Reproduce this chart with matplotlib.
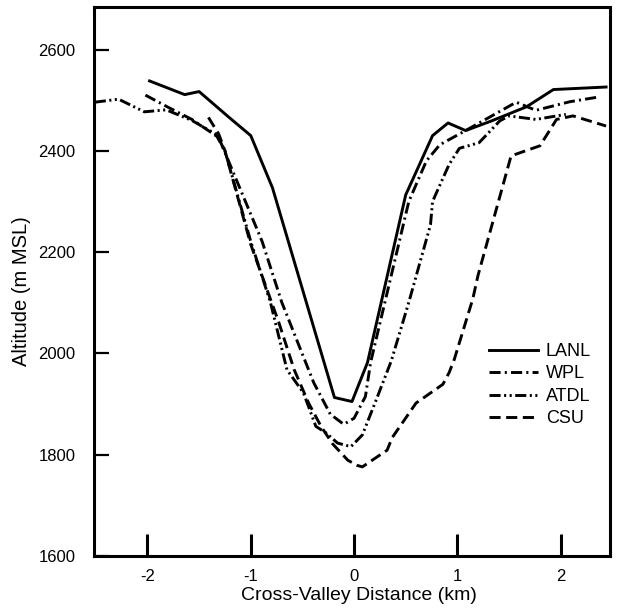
import numpy as np
import matplotlib
matplotlib.use("Agg")
import matplotlib.pyplot as plt

plt.rcParams['font.family'] = ['Liberation Sans', 'DejaVu Sans']
plt.rcParams['axes.unicode_minus'] = False
plt.rcParams['lines.scale_dashes'] = False

# cross-valley profiles (km, m MSL)
lanl_x = [-1.98, -1.64, -1.50, -1.21, -1.00, -0.79, -0.19, -0.02, 0.13, 0.50, 0.76, 0.91, 1.08, 1.33, 1.67, 1.93, 2.44]
lanl_y = [2538, 2511, 2517, 2466, 2430, 2327, 1913, 1905, 1982, 2313, 2430, 2455, 2440, 2459, 2487, 2521, 2526]

wpl_x = [-2.02, -1.80, -1.57, -1.31, -0.89, -0.70, -0.39, -0.23, -0.10, 0.00, 0.11, 0.16, 0.53, 0.70, 0.83, 1.08, 1.57, 1.76, 2.09, 2.36]
wpl_y = [2510, 2486, 2462, 2426, 2221, 2101, 1942, 1880, 1860, 1872, 1915, 1982, 2300, 2380, 2412, 2440, 2496, 2480, 2497, 2506]

atdl_x = [-2.51, -2.28, -2.03, -1.82, -1.57, -1.34, -1.25, -1.00, -0.81, -0.65, -0.49, -0.37, -0.27, -0.16, -0.03, 0.08, 0.21, 0.36, 0.53, 0.74, 0.76, 0.92, 1.02, 1.21, 1.41, 1.50, 1.76, 2.05]
atdl_y = [2496, 2502, 2477, 2481, 2460, 2433, 2400, 2221, 2101, 1968, 1922, 1856, 1843, 1823, 1816, 1839, 1906, 1985, 2101, 2254, 2300, 2373, 2405, 2416, 2459, 2469, 2462, 2472]

csu_x = [-1.41, -1.31, -1.25, -1.00, -0.73, -0.58, -0.44, -0.32, -0.21, -0.06, 0.03, 0.08, 0.32, 0.37, 0.60, 0.86, 0.92, 0.97, 1.15, 1.20, 1.52, 1.80, 1.96, 2.12, 2.44]
csu_y = [2466, 2433, 2400, 2215, 2062, 1968, 1902, 1856, 1822, 1789, 1779, 1776, 1809, 1834, 1902, 1939, 1962, 1988, 2108, 2154, 2390, 2410, 2462, 2469, 2449]

x_ticks = [-2, -1, 0, 1, 2]
y_ticks = [1600, 1800, 2000, 2200, 2400, 2600]

fig = plt.figure(figsize=(6.17, 6.08), dpi=100)
ax = fig.add_axes([0.152, 0.0855, 0.837, 0.903])

lw = 2.1
ax.plot(lanl_x, lanl_y, color='black', lw=lw, label='LANL')
ax.plot(wpl_x, wpl_y, color='black', lw=lw, dashes=(8, 3, 1.5, 3), label='WPL')
ax.plot(atdl_x, atdl_y, color='black', lw=lw, dashes=(8, 2.5, 1.5, 2.5, 1.5, 2.5), label='ATDL')
ax.plot(csu_x, csu_y, color='black', lw=lw, dashes=(8, 4), label='CSU')

ax.set_xlim(-2.52, 2.48)
ax.set_ylim(1600, 2684)
ax.set_xticks(x_ticks)
ax.set_yticks(y_ticks)
ax.set_xticklabels([str(t) for t in x_ticks])
ax.tick_params(axis='x', direction='in', length=16, width=2.2, pad=9, labelsize=12)
ax.tick_params(axis='y', direction='in', length=11, width=1.6, pad=13, labelsize=12)
for s in ax.spines.values():
    s.set_linewidth(2.2)

ax.set_xlabel('Cross-Valley Distance (km)', fontsize=14)
ax.set_ylabel('Altitude (m MSL)', fontsize=14.5)
ax.xaxis.set_label_coords(0.513, -0.056)
ax.yaxis.set_label_coords(-0.122, 0.483)

ax.legend(loc='upper left', bbox_to_anchor=(0.765, 0.388), frameon=False, fontsize=13,
          handlelength=2.7, handletextpad=0.45, labelspacing=0.3, borderpad=0,
          borderaxespad=0)

fig.savefig('out.png', dpi=100)
